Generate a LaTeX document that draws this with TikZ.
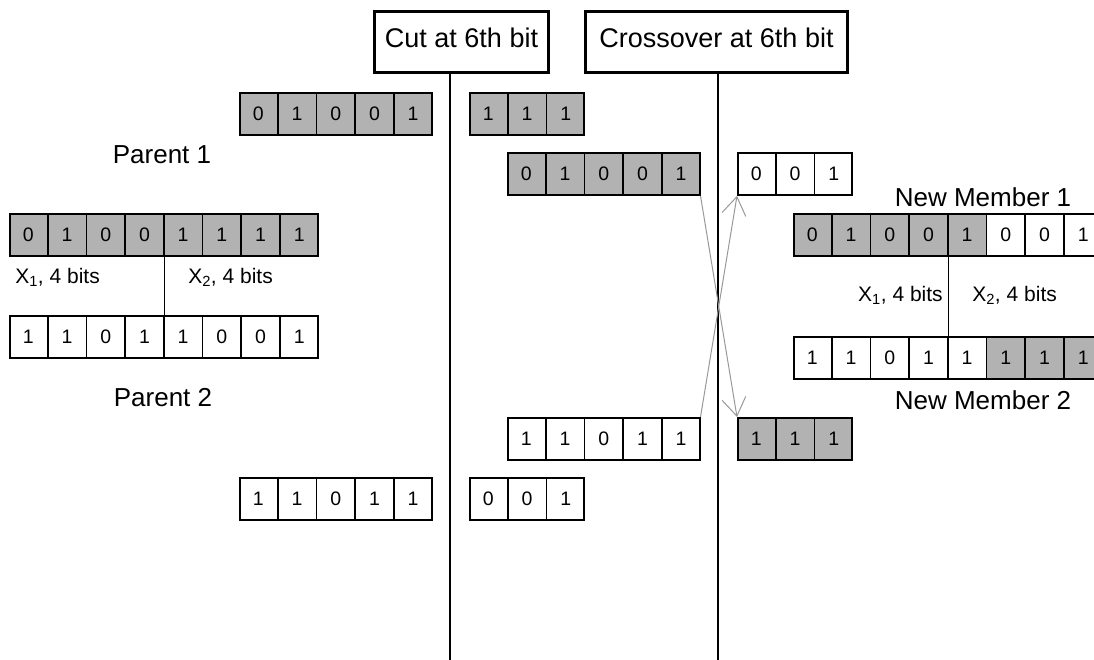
\documentclass[tikz,border=0pt]{standalone}
\usepackage{fontspec}
\setmainfont{Liberation Sans}
\usetikzlibrary{shapes.multipart,positioning,arrows.meta}

\definecolor{bitgray}{gray}{0.7}
% one bit of a chromosome, fixed width and height
\newcommand{\cell}[1]{\makebox[36.9pt]{\rule[-14.5pt]{0pt}{42pt}#1}}

\begin{document}
\begin{tikzpicture}[x=1pt, y=-1pt, semithick]
  \tikzstyle{bits}=[rectangle split, rectangle split horizontal, draw, line width=1.8pt,
                    inner xsep=0pt, inner ysep=0pt, anchor=north west, font=\fontsize{19.5}{22}\selectfont]
  \tikzstyle{dark}=[fill=bitgray]
  \tikzstyle{head}=[draw, line width=3pt, minimum height=61pt, text height=19pt, text depth=8pt,
                    anchor=north west, font=\fontsize{27}{32}\selectfont]
  \tikzstyle{rowname}=[inner sep=0pt, font=\fontsize{26}{30}\selectfont]
  \tikzstyle{bitnote}=[inner sep=0pt, font=\fontsize{21}{24}\selectfont]
  \tikzstyle{swap}=[draw=black!40, line width=1pt, -{Straight Barb[length=18pt,width=24pt]}]
  \path[use as bounding box, clip] (0,0) rectangle (1094,660);

  % the two parents
  \node[bits, dark, rectangle split parts=8] (P1) at (9,213)
    {\cell{0}\nodepart{two}\cell{1}\nodepart{three}\cell{0}\nodepart{four}\cell{0}\nodepart{five}\cell{1}\nodepart{six}\cell{1}\nodepart{seven}\cell{1}\nodepart{eight}\cell{1}};
  \node[bits, rectangle split parts=8] (P2) at (9,315)
    {\cell{1}\nodepart{two}\cell{1}\nodepart{three}\cell{0}\nodepart{four}\cell{1}\nodepart{five}\cell{1}\nodepart{six}\cell{0}\nodepart{seven}\cell{0}\nodepart{eight}\cell{1}};
  \draw[thin] (P1.four split south) -- (P2.four split north);
  \node[rowname] (p1name) at (162,155) {Parent 1};
  \node[rowname] (p2name) at (163,398) {Parent 2};
  \node[bitnote, anchor=west] (p1x1) at (15,277) {X\textsubscript{1}, 4 bits};
  \node[bitnote, anchor=west] (p1x2) at (188,277) {X\textsubscript{2}, 4 bits};

  % cut and crossover
  \node[head, minimum width=174pt] (cut) at (373,10) {Cut at 6th bit};
  \node[head, minimum width=262pt] (cross) at (584,10) {Crossover at 6th bit};
  \coordinate (cutfoot) at (450,660);
  \coordinate (crossfoot) at (718,660);
  \draw[line width=2.5pt] (cutfoot |- cut.south) -- (cutfoot);
  \draw[line width=2.5pt] (crossfoot |- cross.south) -- (crossfoot);

  \node[bits, dark, rectangle split parts=5] (P1head) at (239,92)
    {\cell{0}\nodepart{two}\cell{1}\nodepart{three}\cell{0}\nodepart{four}\cell{0}\nodepart{five}\cell{1}};
  \node[bits, dark, rectangle split parts=3] (P1tail) at (469,92)
    {\cell{1}\nodepart{two}\cell{1}\nodepart{three}\cell{1}};
  \node[bits, rectangle split parts=5] (P2head) at (239,477)
    {\cell{1}\nodepart{two}\cell{1}\nodepart{three}\cell{0}\nodepart{four}\cell{1}\nodepart{five}\cell{1}};
  \node[bits, rectangle split parts=3] (P2tail) at (469,477)
    {\cell{0}\nodepart{two}\cell{0}\nodepart{three}\cell{1}};

  \node[bits, dark, rectangle split parts=5] (M1head) at (507,152)
    {\cell{0}\nodepart{two}\cell{1}\nodepart{three}\cell{0}\nodepart{four}\cell{0}\nodepart{five}\cell{1}};
  \node[bits, rectangle split parts=3] (M1tail) at (737,152)
    {\cell{0}\nodepart{two}\cell{0}\nodepart{three}\cell{1}};
  \node[bits, rectangle split parts=5] (M2head) at (507,417)
    {\cell{1}\nodepart{two}\cell{1}\nodepart{three}\cell{0}\nodepart{four}\cell{1}\nodepart{five}\cell{1}};
  \node[bits, dark, rectangle split parts=3] (M2tail) at (737,417)
    {\cell{1}\nodepart{two}\cell{1}\nodepart{three}\cell{1}};
  \draw[swap] (M1head.south east) -- (M2tail.north west);
  \draw[swap] (M2head.north east) -- (M1tail.south west);

  % the two children
  \node[bits, rectangle split parts=8,
        rectangle split part fill={bitgray,bitgray,bitgray,bitgray,bitgray,white,white,white}] (N1) at (793,213)
    {\cell{0}\nodepart{two}\cell{1}\nodepart{three}\cell{0}\nodepart{four}\cell{0}\nodepart{five}\cell{1}\nodepart{six}\cell{0}\nodepart{seven}\cell{0}\nodepart{eight}\cell{1}};
  \node[bits, rectangle split parts=8,
        rectangle split part fill={white,white,white,white,white,bitgray,bitgray,bitgray}] (N2) at (793,336)
    {\cell{1}\nodepart{two}\cell{1}\nodepart{three}\cell{0}\nodepart{four}\cell{1}\nodepart{five}\cell{1}\nodepart{six}\cell{1}\nodepart{seven}\cell{1}\nodepart{eight}\cell{1}};
  \draw[thin] (N1.four split south) -- (N2.four split north);
  \node[rowname] (n1name) at (983,197) {New Member 1};
  \node[rowname] (n2name) at (983,400) {New Member 2};
  \node[bitnote, anchor=east] (n1x1) at (943,295) {X\textsubscript{1}, 4 bits};
  \node[bitnote, anchor=west] (n1x2) at (972,295) {X\textsubscript{2}, 4 bits};
\end{tikzpicture}
\end{document}
